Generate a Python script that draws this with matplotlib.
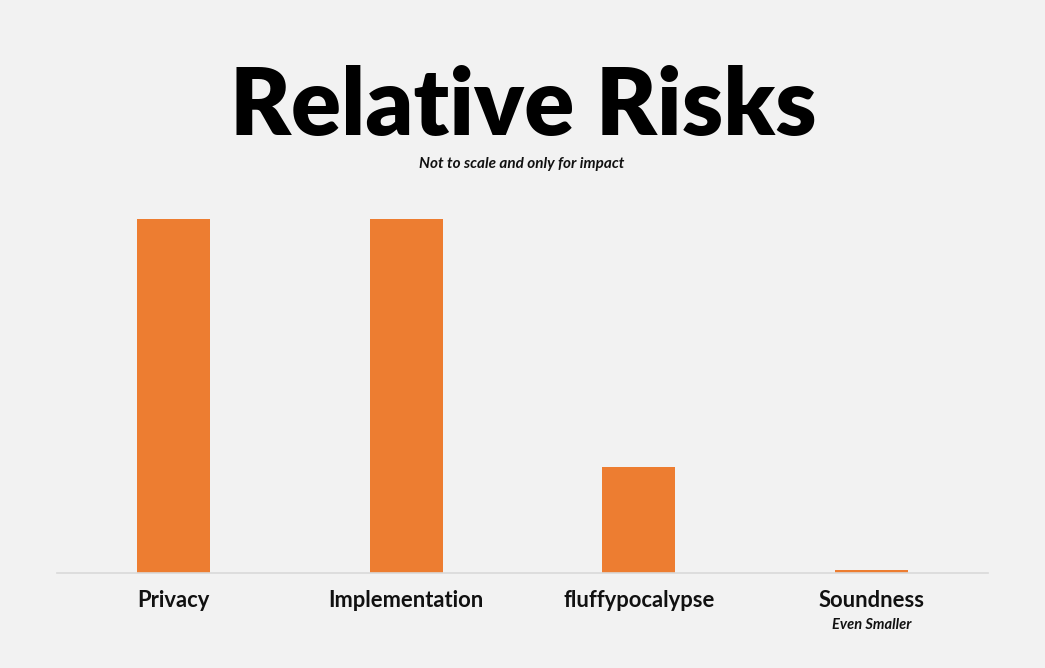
import matplotlib.pyplot as plt

# Datos
categorias = ['Privacy', 'Implementation', 'fluffypocalypse', 'Soundness']
riesgo = [100, 100, 30, 0.9]
notas = ['', '', '', 'Even Smaller']

fondo = '#f2f2f2'
naranja = '#ed7d31'

fig = plt.figure(figsize=(10.45, 6.68), dpi=100, facecolor=fondo)
ax = fig.add_axes([57 / 1045, 95 / 668, 931 / 1045, 354 / 668])
ax.set_facecolor(fondo)

x = range(len(categorias))
ax.bar(x, riesgo, width=0.313, color=naranja)

ax.set_xlim(-0.5, len(categorias) - 0.5)
ax.set_ylim(0, 100)
ax.set_yticks([])
ax.set_xticks([])
for lado in ['top', 'right', 'left']:
    ax.spines[lado].set_visible(False)
ax.spines['bottom'].set_color('#d9d9d9')
ax.spines['bottom'].set_linewidth(1.2)

# Etiquetas de categoría
for i, (cat, nota) in enumerate(zip(categorias, notas)):
    ax.text(i, -7.8, cat, ha='center', va='center', fontsize=15.8,
            fontweight='bold', family='Lato', color='#111111')
    if nota:
        ax.text(i, -14.6, nota, ha='center', va='center', fontsize=10.5,
                fontweight='bold', style='italic', family='Lato', color='#111111')

# Títulos
fig.text(523 / 1045, 1 - 108 / 668, 'Relative Risks', ha='center', va='center',
         fontsize=67, fontweight='heavy', family='Lato', color='black')
fig.text(522 / 1045, 1 - 164 / 668, 'Not to scale and only for impact', ha='center',
         va='center', fontsize=11, fontweight='bold', style='italic', family='Lato',
         color='#111111')

fig.savefig('out.png', dpi=100, facecolor=fondo)
